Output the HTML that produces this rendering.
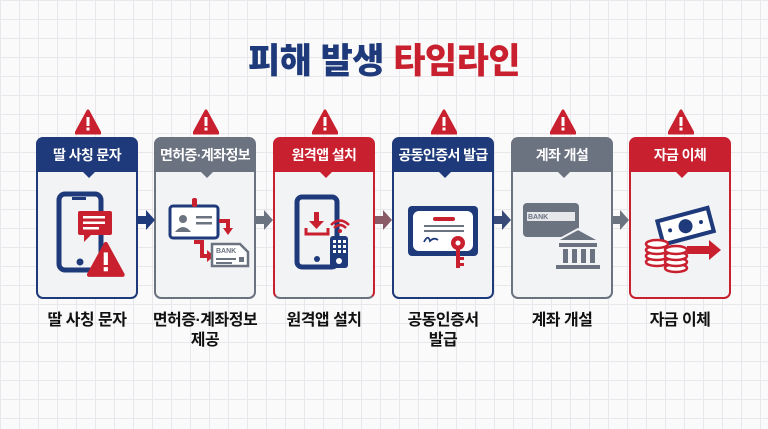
<!DOCTYPE html>
<html><head><meta charset="utf-8"><style>
*{margin:0;padding:0;box-sizing:border-box}
body{width:768px;height:429px;overflow:hidden;background:#fafafa;
background-image:linear-gradient(#e8e8ec 1px,transparent 1px),linear-gradient(90deg,#e8e8ec 1px,transparent 1px);background-size:19px 19px;
font-family:"Liberation Sans","Noto Sans CJK KR",sans-serif;position:relative}
.title{position:absolute;top:33px;left:0;width:768px;text-align:center;font-size:35px;font-weight:900;letter-spacing:-0.5px}
.card{position:absolute;top:137px;width:102px;height:162px;border:2px solid;border-radius:7px;background:#f2f3f5;overflow:visible}
.hd{height:33px;color:#fff;font-weight:700;font-size:14px;text-align:center;line-height:33px;border-radius:4px 4px 0 0;position:relative;letter-spacing:-0.6px;white-space:nowrap}
.hd:after{content:"";position:absolute;left:45px;bottom:-6px;border-left:6px solid transparent;border-right:6px solid transparent;border-top:6px solid var(--c)}
.warn{position:absolute;top:-30px;left:37px}
.ic{position:absolute;left:0;top:45px;width:98px;height:100px}
.lbl{position:absolute;top:311px;width:130px;text-align:center;font-size:16px;font-weight:700;line-height:20px;color:#111;letter-spacing:-0.5px}
.arr{position:absolute;top:208px}
</style></head><body>
<div class="title"><span style="color:#1f3a7a">피해 발생</span> <span style="color:#c8202f">타임라인</span></div>

<svg width="0" height="0" style="position:absolute"><defs>
<g id="w"><path d="M12 0 L24 22 L0 22 Z" fill="#c8202f" stroke="#c8202f" stroke-width="3" stroke-linejoin="round"/><rect x="10.5" y="6" width="3" height="9" fill="#fff"/><rect x="10.5" y="16.5" width="3" height="3" fill="#fff"/></g>
</defs></svg>

<div class="card" style="left:36px;border-color:#1f3a7a;--c:#1f3a7a">
<svg class="warn" width="26" height="26" viewBox="-1 -2 26 26"><use href="#w"/></svg>
<div class="hd" style="background:#1f3a7a">딸 사칭 문자</div>
<svg class="ic" viewBox="0 0 98 100"><rect x="21" y="10" width="42" height="76" rx="6" fill="none" stroke="#1f3a7a" stroke-width="5"/><rect x="34" y="13" width="14" height="3" fill="#1f3a7a"/><circle cx="42" cy="78" r="3.5" fill="#1f3a7a"/><rect x="40" y="27" width="34" height="24" rx="2" fill="#c8202f"/><path d="M46 50 L46 58 L54 50Z" fill="#c8202f"/><rect x="45" y="32" width="22" height="2.5" fill="#fff"/><rect x="45" y="37.5" width="22" height="2.5" fill="#fff"/><rect x="45" y="43" width="16" height="2.5" fill="#fff"/><g transform="translate(51,60) scale(1.4)"><use href="#w"/></g></svg>
</div>
<div class="card" style="left:154px;border-color:#6b7280;--c:#6b7280">
<svg class="warn" width="26" height="26" viewBox="-1 -2 26 26"><use href="#w"/></svg>
<div class="hd" style="background:#6b7280">면허증·계좌정보</div>
<svg class="ic" viewBox="0 0 98 100"><rect x="14" y="22" width="48" height="32" rx="3" fill="#fff" stroke="#1f3a7a" stroke-width="3"/><rect x="36" y="14" width="5" height="9" rx="2" fill="#c8202f"/><circle cx="27" cy="35" r="4" fill="#6b7280"/><path d="M19 48 Q27 38 35 48Z" fill="#6b7280"/><rect x="40" y="32" width="16" height="2.5" fill="#6b7280"/><rect x="40" y="38" width="16" height="2.5" fill="#6b7280"/><path d="M63 37 L72 37 L72 45" fill="none" stroke="#c8202f" stroke-width="4"/><path d="M67 44 L77 44 L72 51Z" fill="#c8202f"/><path d="M38 58 L46 58 L46 72 L52 72" fill="none" stroke="#c8202f" stroke-width="4"/><path d="M51 66 L58 72 L51 78Z" fill="#c8202f"/><path d="M56 60 L84 60 L92 68 L92 82 L56 82Z" fill="#fff" stroke="#6b7280" stroke-width="2.5"/><text x="60" y="69" font-size="7" font-weight="700" fill="#6b7280" font-family="Liberation Sans">BANK</text><rect x="60" y="74" width="20" height="2" fill="#6b7280"/><rect x="60" y="78" width="16" height="2" fill="#6b7280"/><rect x="83" y="73" width="5" height="5" fill="#6b7280"/></svg>
</div>
<div class="card" style="left:273px;border-color:#c8202f;border-bottom-color:#6b7280;--c:#c8202f">
<svg class="warn" width="26" height="26" viewBox="-1 -2 26 26"><use href="#w"/></svg>
<div class="hd" style="background:#c8202f">원격앱 설치</div>
<svg class="ic" viewBox="0 0 98 100"><rect x="22" y="13" width="40" height="70" rx="5" fill="none" stroke="#1f3a7a" stroke-width="5"/><circle cx="42" cy="75" r="3" fill="#1f3a7a"/><rect x="39" y="28" width="5" height="10" fill="#c8202f"/><path d="M34 37 L49 37 L41.5 45Z" fill="#c8202f"/><path d="M31 44 L31 50 L53 50 L53 44" fill="none" stroke="#c8202f" stroke-width="3"/><rect x="55" y="52" width="18" height="32" rx="3" fill="#1f3a7a"/><g fill="#fff"><rect x="58" y="56" width="3" height="3"/><rect x="63" y="56" width="3" height="3"/><rect x="68" y="56" width="3" height="3"/><rect x="58" y="61" width="3" height="3"/><rect x="63" y="61" width="3" height="3"/><rect x="68" y="61" width="3" height="3"/><rect x="58" y="66" width="3" height="3"/><rect x="63" y="66" width="3" height="3"/><rect x="68" y="66" width="3" height="3"/><circle cx="64" cy="77" r="3"/></g><path d="M59 44 Q65 38 71 44 M56 41 Q65 32 74 41" fill="none" stroke="#c8202f" stroke-width="2.5"/><circle cx="65" cy="47" r="2" fill="#c8202f"/></svg>
</div>
<div class="card" style="left:392px;border-color:#1f3a7a;--c:#1f3a7a">
<svg class="warn" width="26" height="26" viewBox="-1 -2 26 26"><use href="#w"/></svg>
<div class="hd" style="background:#1f3a7a">공동인증서 발급</div>
<svg class="ic" viewBox="0 0 98 100"><rect x="14" y="22" width="70" height="50" rx="4" fill="#1f3a7a"/><rect x="19" y="27" width="60" height="40" rx="6" fill="#fff"/><rect x="39" y="33" width="22" height="4" rx="2" fill="#c8202f"/><rect x="30" y="41" width="40" height="2" fill="#6b7280"/><rect x="30" y="46" width="40" height="2" fill="#6b7280"/><path d="M30 58 Q34 50 36 57 Q40 53 44 56" fill="none" stroke="#1f3a7a" stroke-width="1.8"/><circle cx="64" cy="59" r="7" fill="#c8202f"/><circle cx="64" cy="59" r="2.5" fill="#fff"/><rect x="62" y="64" width="4" height="20" fill="#c8202f"/><rect x="66" y="73" width="4" height="3" fill="#c8202f"/><rect x="66" y="79" width="4" height="3" fill="#c8202f"/></svg>
</div>
<div class="card" style="left:511px;border-color:#6b7280;--c:#6b7280">
<svg class="warn" width="26" height="26" viewBox="-1 -2 26 26"><use href="#w"/></svg>
<div class="hd" style="background:#6b7280">계좌 개설</div>
<svg class="ic" viewBox="0 0 98 100"><rect x="10" y="19" width="56" height="34" rx="4" fill="#6b7280"/><rect x="14" y="28" width="48" height="9" fill="#e5e7eb"/><text x="15" y="35" font-size="7" font-weight="700" fill="#6b7280" font-family="Liberation Sans">BANK</text><path d="M43 57 L65 45 L87 57Z" fill="#6b7280" stroke="#f2f3f5" stroke-width="2"/><rect x="46" y="59" width="38" height="4" fill="#6b7280"/><rect x="50" y="65" width="5" height="14" fill="#6b7280"/><rect x="59" y="65" width="5" height="14" fill="#6b7280"/><rect x="68" y="65" width="5" height="14" fill="#6b7280"/><rect x="77" y="65" width="5" height="14" fill="#6b7280"/><rect x="43" y="81" width="44" height="4" fill="#6b7280"/></svg>
</div>
<div class="card" style="left:629px;border-color:#c8202f;--c:#c8202f">
<svg class="warn" width="26" height="26" viewBox="-1 -2 26 26"><use href="#w"/></svg>
<div class="hd" style="background:#c8202f">자금 이체</div>
<svg class="ic" viewBox="0 0 98 100"><g transform="rotate(-15 55 40)"><rect x="26" y="28" width="56" height="28" fill="#1f3a7a"/><rect x="30" y="32" width="48" height="20" fill="#fff"/><circle cx="54" cy="42" r="7" fill="#1f3a7a"/><circle cx="38" cy="42" r="2" fill="#1f3a7a"/><circle cx="70" cy="42" r="2" fill="#1f3a7a"/></g><rect x="56" y="62" width="24" height="8" fill="#c8202f"/><path d="M78 56 L90 66 L78 76Z" fill="#c8202f"/><g fill="#fff" stroke="#c8202f" stroke-width="2.5"><ellipse cx="26" cy="78" rx="11" ry="4"/><ellipse cx="26" cy="72" rx="11" ry="4"/><ellipse cx="26" cy="66" rx="11" ry="4"/><ellipse cx="26" cy="60" rx="11" ry="4"/><ellipse cx="45" cy="84" rx="11" ry="4"/><ellipse cx="45" cy="78" rx="11" ry="4"/><ellipse cx="45" cy="72" rx="11" ry="4"/><ellipse cx="45" cy="66" rx="11" ry="4"/></g></svg>
</div>

<svg class="arr" style="left:138px" width="18" height="24"><path d="M0 8 H8 V2 L17 12 L8 22 V16 H0Z" fill="#1f3a7a"/></svg>
<svg class="arr" style="left:256px" width="18" height="24"><path d="M0 8 H8 V2 L17 12 L8 22 V16 H0Z" fill="#6b7280"/></svg>
<svg class="arr" style="left:375px" width="18" height="24"><path d="M0 8 H8 V2 L17 12 L8 22 V16 H0Z" fill="#8a5a66"/></svg>
<svg class="arr" style="left:494px" width="18" height="24"><path d="M0 8 H8 V2 L17 12 L8 22 V16 H0Z" fill="#3a4a78"/></svg>
<svg class="arr" style="left:612px" width="18" height="24"><path d="M0 8 H8 V2 L17 12 L8 22 V16 H0Z" fill="#6b7280"/></svg>

<div class="lbl" style="left:22px">딸 사칭 문자</div>
<div class="lbl" style="left:140px">면허증·계좌정보<br>제공</div>
<div class="lbl" style="left:259px">원격앱 설치</div>
<div class="lbl" style="left:378px">공동인증서<br>발급</div>
<div class="lbl" style="left:497px">계좌 개설</div>
<div class="lbl" style="left:615px">자금 이체</div>
</body></html>
